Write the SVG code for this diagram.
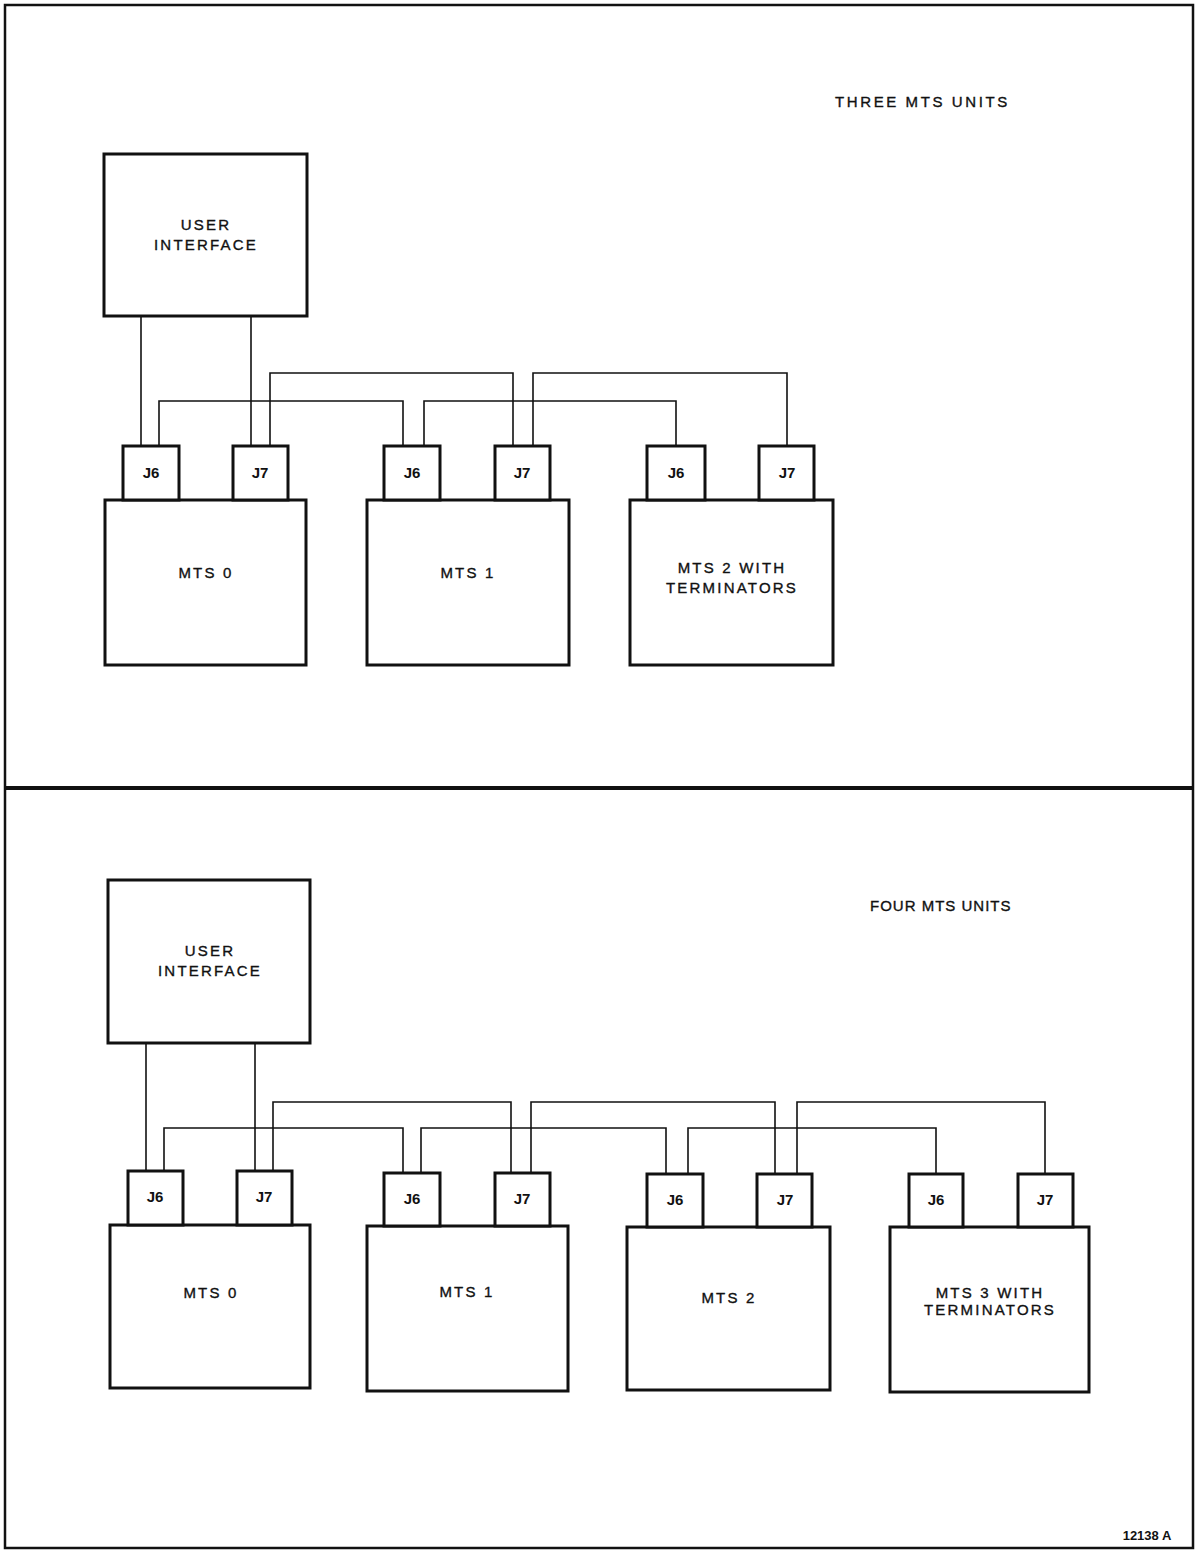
<svg xmlns="http://www.w3.org/2000/svg" width="1196" height="1552" viewBox="0 0 1196 1552">
<style>
.box{fill:#fff;stroke:#111;stroke-width:3}
.jack{fill:#fff;stroke:#111;stroke-width:3}
.wire{fill:none;stroke:#111;stroke-width:1.6}
.frame{fill:none;stroke:#111;stroke-width:2.5}
text{font-family:"Liberation Sans",Arial,sans-serif;font-size:15px;fill:#111;stroke:#111;stroke-width:0.35;text-anchor:middle;letter-spacing:2.2px}
.j{font-size:15px;font-weight:bold;letter-spacing:0;stroke-width:0}
.t{text-anchor:start;letter-spacing:2.6px}
</style>
<rect width="1196" height="1552" fill="#fff"/>
<rect class="frame" x="5" y="5" width="1188" height="1543"/>
<line x1="5" y1="788" x2="1193" y2="788" stroke="#111" stroke-width="4"/>

<g id="connectors">
<path class="wire" d="M141,316 V446"/>
<path class="wire" d="M251,316 V446"/>
<path class="wire" d="M159,446 V401 H403 V446"/>
<path class="wire" d="M424,446 V401 H676 V446"/>
<path class="wire" d="M270,446 V373 H513 V446"/>
<path class="wire" d="M533,446 V373 H787 V446"/>
<path class="wire" d="M146,1043 V1172"/>
<path class="wire" d="M255,1043 V1172"/>
<path class="wire" d="M164,1172 V1128 H403 V1173"/>
<path class="wire" d="M421,1173 V1128 H666 V1174"/>
<path class="wire" d="M688,1174 V1128 H936 V1174"/>
<path class="wire" d="M273,1172 V1102 H511 V1173"/>
<path class="wire" d="M531,1173 V1102 H775 V1174"/>
<path class="wire" d="M797,1174 V1102 H1045 V1174"/>
</g>

<text class="t" x="835" y="107">THREE MTS UNITS</text>

<g id="ui1"><rect class="box" x="104" y="154" width="203" height="162"/><text x="206" y="230">USER</text><text x="206" y="250">INTERFACE</text></g>
<g id="mts0a"><rect class="box" x="105" y="500" width="201" height="165"/><text x="206" y="578">MTS 0</text></g>
<g id="mts0a_j6"><rect class="jack" x="123" y="446" width="56" height="54"/><text class="j" x="151" y="478">J6</text></g>
<g id="mts0a_j7"><rect class="jack" x="233" y="446" width="55" height="54"/><text class="j" x="260" y="478">J7</text></g>
<g id="mts1a"><rect class="box" x="367" y="500" width="202" height="165"/><text x="468" y="578">MTS 1</text></g>
<g id="mts1a_j6"><rect class="jack" x="384" y="446" width="56" height="54"/><text class="j" x="412" y="478">J6</text></g>
<g id="mts1a_j7"><rect class="jack" x="495" y="446" width="55" height="54"/><text class="j" x="522" y="478">J7</text></g>
<g id="mts2a"><rect class="box" x="630" y="500" width="203" height="165"/><text x="732" y="573">MTS 2 WITH</text><text x="732" y="593">TERMINATORS</text></g>
<g id="mts2a_j6"><rect class="jack" x="647" y="446" width="58" height="54"/><text class="j" x="676" y="478">J6</text></g>
<g id="mts2a_j7"><rect class="jack" x="759" y="446" width="55" height="54"/><text class="j" x="787" y="478">J7</text></g>

<text class="t" x="870" y="911" style="letter-spacing:1px">FOUR MTS UNITS</text>

<g id="ui2"><rect class="box" x="108" y="880" width="202" height="163"/><text x="210" y="956">USER</text><text x="210" y="976">INTERFACE</text></g>
<g id="mts0b"><rect class="box" x="110" y="1225" width="200" height="163"/><text x="211" y="1298">MTS 0</text></g>
<g id="mts0b_j6"><rect class="jack" x="128" y="1171" width="55" height="54"/><text class="j" x="155" y="1202">J6</text></g>
<g id="mts0b_j7"><rect class="jack" x="237" y="1171" width="55" height="54"/><text class="j" x="264" y="1202">J7</text></g>
<g id="mts1b"><rect class="box" x="367" y="1226" width="201" height="165"/><text x="467" y="1297">MTS 1</text></g>
<g id="mts1b_j6"><rect class="jack" x="384" y="1173" width="56" height="53"/><text class="j" x="412" y="1204">J6</text></g>
<g id="mts1b_j7"><rect class="jack" x="495" y="1173" width="55" height="53"/><text class="j" x="522" y="1204">J7</text></g>
<g id="mts2b"><rect class="box" x="627" y="1227" width="203" height="163"/><text x="729" y="1303">MTS 2</text></g>
<g id="mts2b_j6"><rect class="jack" x="647" y="1174" width="56" height="53"/><text class="j" x="675" y="1205">J6</text></g>
<g id="mts2b_j7"><rect class="jack" x="757" y="1174" width="55" height="53"/><text class="j" x="785" y="1205">J7</text></g>
<g id="mts3b"><rect class="box" x="890" y="1227" width="199" height="165"/><text x="990" y="1298">MTS 3 WITH</text><text x="990" y="1315">TERMINATORS</text></g>
<g id="mts3b_j6"><rect class="jack" x="909" y="1174" width="54" height="53"/><text class="j" x="936" y="1205">J6</text></g>
<g id="mts3b_j7"><rect class="jack" x="1018" y="1174" width="55" height="53"/><text class="j" x="1045" y="1205">J7</text></g>

<text x="1147" y="1540" style="font-weight:bold;letter-spacing:0;font-size:13px;stroke-width:0">12138 A</text>
</svg>
